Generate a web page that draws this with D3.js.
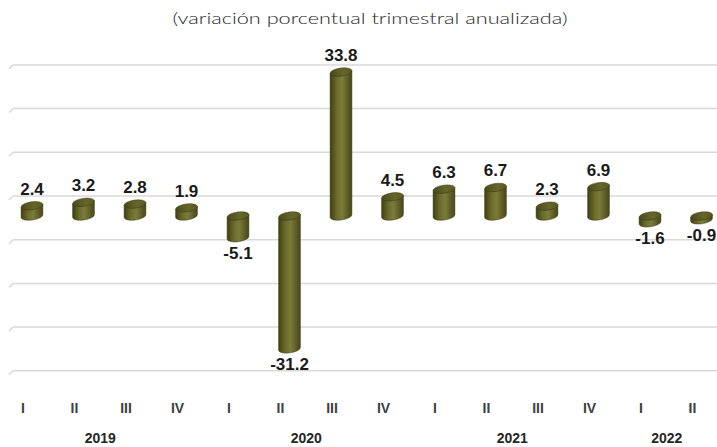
<!DOCTYPE html>
<html>
<head>
<meta charset="utf-8">
<script src="https://cdn.jsdelivr.net/npm/d3@7"></script>
<style>
  body { margin: 0; background: #fff; }
  svg { display: block; }
</style>
</head>
<body>
<div id="chart"></div>
<script>
// data
var quarters = ["I", "II", "III", "IV", "I", "II", "III", "IV", "I", "II", "III", "IV", "I", "II"];
var years = ["2019", "2019", "2019", "2019", "2020", "2020", "2020", "2020", "2021", "2021", "2021", "2021", "2022", "2022"];
var values = [2.4, 3.2, 2.8, 1.9, -5.1, -31.2, 33.8, 4.5, 6.3, 6.7, 2.3, 6.9, -1.6, -0.9];
var gridTicks = [-40, -30, -20, -10, 0, 10, 20, 30];
var subtitle = "(variación porcentual trimestral anualizada)";

var width = 717, height = 447;

var svg = d3.select("#chart")
  .append("svg")
    .attr("width", width)
    .attr("height", height);

// gradients for the cylinders
var defs = svg.append("defs");
var body = defs.append("linearGradient").attr("id", "cyl").attr("x1", "0%").attr("x2", "100%");
body.append("stop").attr("offset", "0%").attr("stop-color", "#3f3f12");
body.append("stop").attr("offset", "30%").attr("stop-color", "#6a6a2b");
body.append("stop").attr("offset", "55%").attr("stop-color", "#7b7b3a");
body.append("stop").attr("offset", "100%").attr("stop-color", "#46461a");
var cap = defs.append("linearGradient").attr("id", "cap").attr("x1", "0%").attr("x2", "100%");
cap.append("stop").attr("offset", "0%").attr("stop-color", "#4a4a1b");
cap.append("stop").attr("offset", "60%").attr("stop-color", "#66662a");
cap.append("stop").attr("offset", "100%").attr("stop-color", "#5a5a22");

// x: category positions of the axis labels, bars sit a bit deeper (to the right)
var x = d3.scalePoint()
    .domain(d3.range(values.length))
    .range([23, 692.5]);
var depthX = 9;

// front plane (bars) and back wall (gridlines)
var yFront = d3.scaleLinear().domain([0, 10]).range([216, 173.4]);
var yBack = d3.scaleLinear().domain([0, 10]).range([196, 152.3]);

// gridlines on the back wall
var grid = svg.append("g");
gridTicks.forEach(function(t) {
  var gy = yBack(t);
  grid.append("line")
    .attr("x1", 13).attr("x2", width)
    .attr("y1", gy).attr("y2", gy)
    .attr("stroke", "#d9d9d9").attr("stroke-width", 1.5);
  grid.append("line")
    .attr("x1", 13).attr("x2", 9)
    .attr("y1", gy).attr("y2", gy + 4)
    .attr("stroke", "#d9d9d9").attr("stroke-width", 1.5);
});

// subtitle
svg.append("text")
  .attr("x", 370)
  .attr("y", 24)
  .attr("text-anchor", "middle")
  .attr("font-family", "'Century Gothic', Lato, sans-serif")
  .attr("font-weight", 300)
  .attr("font-size", "16px")
  .attr("fill", "#262626")
  .attr("textLength", 395)
  .attr("lengthAdjust", "spacingAndGlyphs")
  .text(subtitle);

// cylinders
var rx = 11, ry = 4, tilt = 8 * Math.PI / 180;
var dx = rx * Math.cos(tilt), dy = rx * Math.sin(tilt);

var bars = svg.append("g").selectAll("g")
  .data(values)
  .enter()
  .append("g");

bars.each(function(v, i) {
  var g = d3.select(this);
  var cx = x(i) + depthX;
  var top = yFront(Math.max(v, 0));
  var bot = yFront(Math.min(v, 0));
  var p = "M" + (cx - dx) + "," + (top + dy) +
          "L" + (cx - dx) + "," + (bot + dy) +
          "A" + rx + "," + ry + " -8 0 0 " + (cx + dx) + "," + (bot - dy) +
          "L" + (cx + dx) + "," + (top - dy) + "Z";
  g.append("path")
    .attr("d", p)
    .attr("fill", "url(#cyl)")
    .attr("stroke", "#3a3a10")
    .attr("stroke-width", 0.5);
  g.append("ellipse")
    .attr("cx", cx).attr("cy", top)
    .attr("rx", rx).attr("ry", ry)
    .attr("transform", "rotate(-8," + cx + "," + top + ")")
    .attr("fill", "url(#cap)")
    .attr("stroke", "#3a3a10")
    .attr("stroke-width", 0.5);
});

// value labels
svg.append("g").selectAll("text")
  .data(values)
  .enter()
  .append("text")
    .attr("x", function(d, i) { return x(i) + depthX; })
    .attr("y", function(d) { return d >= 0 ? yFront(d) - 11 : yFront(d) + 21; })
    .attr("text-anchor", "middle")
    .attr("font-family", "'Liberation Sans', Arial, sans-serif")
    .attr("font-weight", 700)
    .attr("font-size", "17px")
    .attr("fill", "#1a1a1a")
    .text(function(d) { return d.toFixed(1); });

// quarter labels
svg.append("g").selectAll("text")
  .data(quarters)
  .enter()
  .append("text")
    .attr("x", function(d, i) { return x(i); })
    .attr("y", 413)
    .attr("text-anchor", "middle")
    .attr("font-family", "'Liberation Sans', Arial, sans-serif")
    .attr("font-weight", 700)
    .attr("font-size", "14px")
    .attr("fill", "#404040")
    .text(function(d) { return d; });

// year labels centred under their quarters
var yearGroups = d3.groups(d3.range(years.length), function(i) { return years[i]; });
svg.append("g").selectAll("text")
  .data(yearGroups)
  .enter()
  .append("text")
    .attr("x", function(d) { return d3.mean(d[1], function(i) { return x(i); }); })
    .attr("y", 443)
    .attr("text-anchor", "middle")
    .attr("font-family", "'Liberation Sans', Arial, sans-serif")
    .attr("font-weight", 700)
    .attr("font-size", "14px")
    .attr("fill", "#262626")
    .text(function(d) { return d[0]; });
</script>
</body>
</html>
